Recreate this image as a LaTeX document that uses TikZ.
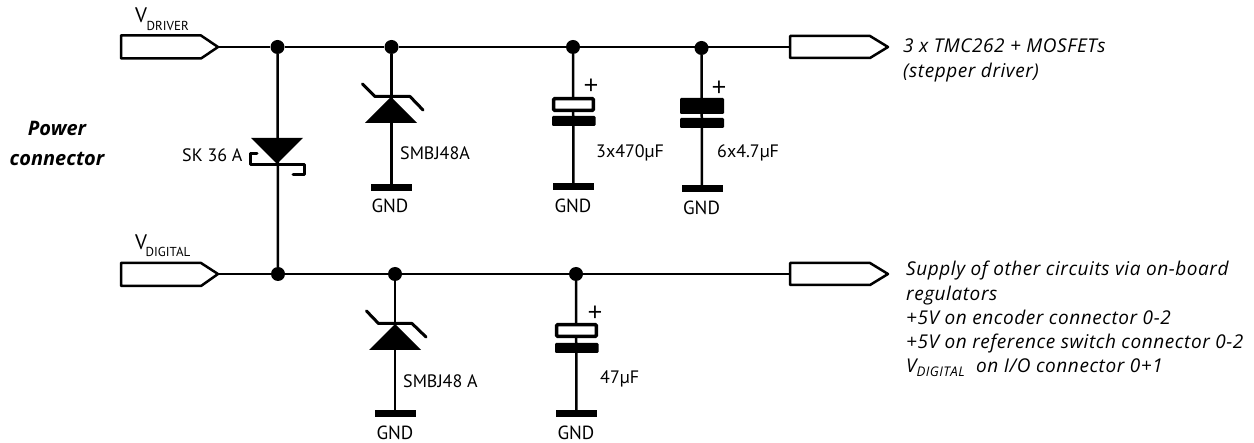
\documentclass[tikz,border=0pt]{standalone}
\usepackage{fontspec}
\setmainfont{PT Sans}
\newfontfamily\notefont[LetterSpace=3]{Open Sans}
\newfontfamily\titlefont{Open Sans}
\tikzset{
  x=1pt,y=-1pt,
  wire/.style={line width=2.5pt,black},
  outl/.style={line width=2.5pt,black,fill=white,line join=round},
  junction/.style={circle,fill=black,inner sep=0pt,minimum size=14pt},
  gndbar/.style={fill=black,draw=none,minimum width=41pt,minimum height=7pt,inner sep=0pt},
  plate/.style={fill=black,draw=none,rounded corners=1.2pt},
  hollow/.style={draw=black,line width=3.5pt,fill=white,rounded corners=1pt},
  tri/.style={fill=black,draw=none},
  bar/.style={line width=3pt,line join=round,line cap=round},
  lbl/.style={font=\fontsize{18}{20}\selectfont,inner sep=0pt,anchor=west},
  gnd/.style={font=\fontsize{19}{20}\selectfont,inner sep=0pt},
  note/.style={font=\notefont\fontsize{19}{24.3}\selectfont\itshape,inner sep=0pt,anchor=north west,align=left},
  title/.style={font=\titlefont\fontsize{20}{30}\selectfont\bfseries\itshape,inner sep=0pt,align=center},
  plus/.style={font=\titlefont\fontsize{26}{26}\selectfont,inner sep=0pt}
}
\begin{document}
\begin{tikzpicture}
\useasboundingbox (0,0) rectangle (1254,443);
% top rail
\coordinate (pd) at (218,47);
\coordinate (od) at (790,47);
\node[junction] (j1) at (277.5,47) {};
\node[junction] (j2) at (391.5,47) {};
\node[junction] (j3) at (573,47) {};
\node[junction] (j4) at (701.5,48) {};
\draw[wire] (pd) -- (j1) -- (j2) -- (j3) -- (701.5,47) -- (od);
% bottom rail
\coordinate (pb) at (218,274);
\coordinate (ob) at (790,274);
\node[junction] (j5) at (278,274) {};
\node[junction] (j6) at (395,274) {};
\node[junction] (j7) at (576,274) {};
\draw[wire] (pb) -- (j5) -- (j6) -- (j7) -- (ob);
% ports
\draw[outl] (pd) -- (201,35.5) -- (121,35.5) -- (121,58.5) -- (201,58.5) -- cycle;
\draw[outl] (790,36) -- (870,36) -- (888,47) -- (870,58) -- (790,58) -- cycle;
\draw[outl] (pb) -- (201,263) -- (121,263) -- (121,286) -- (201,286) -- cycle;
\draw[outl] (790,263) -- (870,263) -- (888,274) -- (870,285) -- (790,285) -- cycle;
\node[gnd,anchor=base west,font=\fontsize{21}{21}\selectfont] (t1) at (135,23) {V};
\node[gnd,anchor=base west,font=\fontsize{13}{13}\selectfont] (t2) at (146.5,31) {DRIVER};
\node[gnd,anchor=base west,font=\fontsize{21}{21}\selectfont] (t3) at (135,250) {V};
\node[gnd,anchor=base west,font=\fontsize{13}{13}\selectfont] (t4) at (145.5,257) {DIGITAL};
% SK 36 A
\draw[wire] (j1) -- (j5);
\fill[tri] (251,138) -- (303,138) -- (277,164) -- cycle;
\draw[bar] (257,153.5) -- (250,153.5) -- (250,164.5) -- (304,164.5) -- (304,175) -- (293,175);
\node[lbl] (l1) at (182,155) {SK 36 A};
% SMBJ top
\node[gndbar] (g1) at (391.5,187.5) {};
\draw[wire] (j2) -- (g1);
\fill[tri] (365,123) -- (417,123) -- (391,97) -- cycle;
\draw[bar] (362.5,84) -- (375,96.5) -- (410,96.5) -- (423,110);
\node[lbl] (l2) at (400,153) {SMBJ48A};
\node[gnd] (n1) at (390,206) {GND};
% C 3x470
\node[gndbar] (g2) at (573.5,187) {};
\draw[wire] (j3) -- (g2);
\draw[hollow] (553.7,98.7) rectangle (593.3,110.3);
\fill[plate] (552,116) rectangle (595.5,126);
\node[plus] (p1) at (591,87) {+};
\node[lbl] (l3) at (596,153) {3x470µF};
\node[gnd] (n2) at (573,206) {GND};
% C 6x4.7
\node[gndbar] (g3) at (702,189) {};
\draw[wire] (j4) -- (g3);
\fill[plate] (680,98) rectangle (724,114);
\fill[plate] (680,118) rectangle (724,128);
\node[plus] (p2) at (719,89) {+};
\node[lbl] (l4) at (717,153) {6x4.7µF};
\node[gnd] (n3) at (701.5,208) {GND};
% SMBJ bottom
\node[gndbar] (g4) at (395,414) {};
\draw[wire] (j6) -- (g4);
\fill[tri] (369,350) -- (421,350) -- (395,324) -- cycle;
\draw[bar] (366.5,311) -- (378.5,323.5) -- (412,323.5) -- (426,337);
\node[lbl] (l5) at (403,381) {SMBJ48 A};
\node[gnd] (n4) at (395,432.5) {GND};
% C 47
\node[gndbar] (g5) at (576.5,414) {};
\draw[wire] (j7) -- (g5);
\draw[hollow] (556.7,324.7) rectangle (596.3,336.3);
\fill[plate] (555,343) rectangle (598.5,353);
\node[plus] (p3) at (595,314) {+};
\node[lbl] (l6) at (600,379) {47µF};
\node[gnd] (n5) at (576,432.5) {GND};
% texts
\node[title] (tt) at (57,143) {Power\\connector};
\node[note] (a1) at (903,39) {3 x TMC262 + MOSFETs\\(stepper driver)};
\node[note] (a2) at (906,261) {Supply of other circuits via on-board\\regulators\\+5V on encoder connector 0-2\\+5V on reference switch connector 0-2\\V\textsubscript{DIGITAL}\ \ on I/O connector 0+1};
\end{tikzpicture}
\end{document}
